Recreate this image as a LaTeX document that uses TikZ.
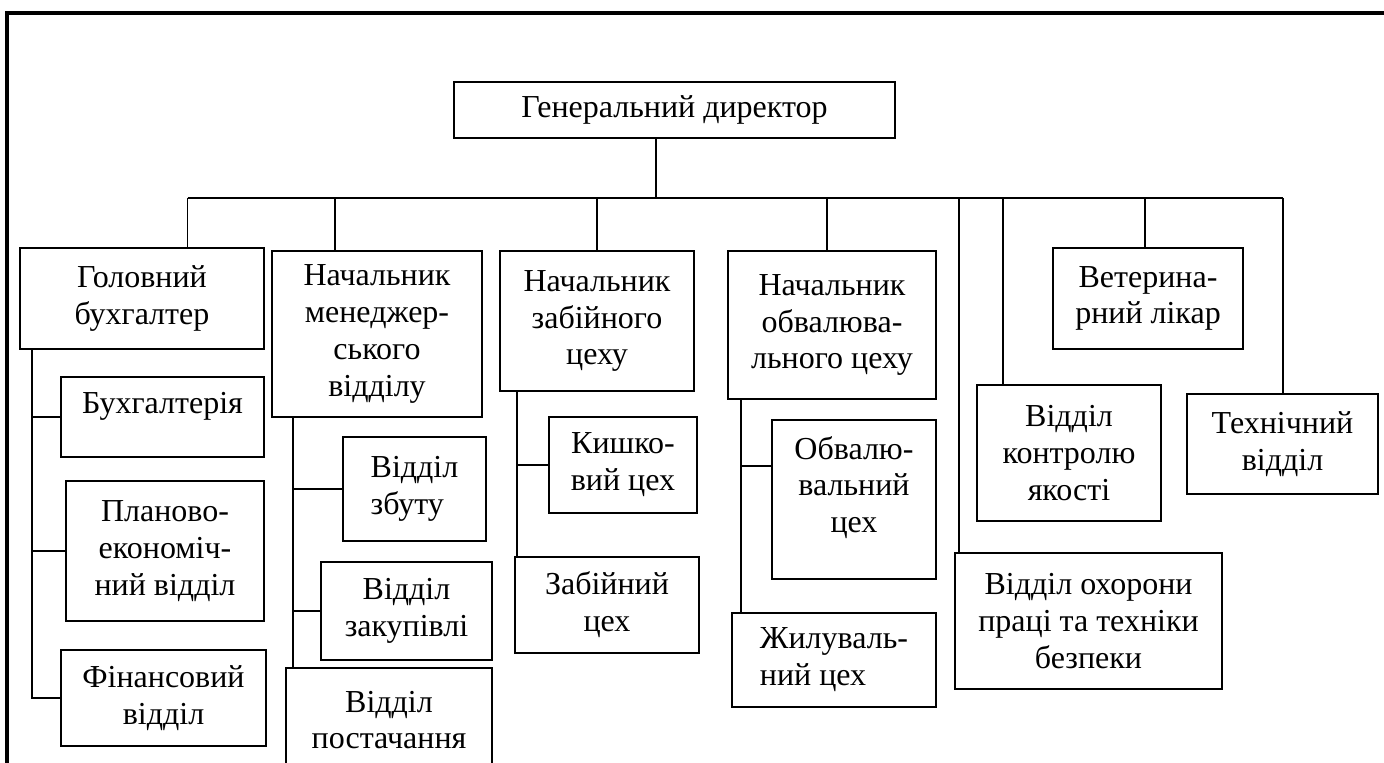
\documentclass[tikz,border=0pt]{standalone}
\usepackage{fontspec}
\setmainfont{Liberation Serif}

\begin{document}
\begin{tikzpicture}[x=0.5pt, y=-0.5pt, font=\fontsize{16}{18.4}\selectfont, unit/.style={draw, line width=1.2pt, align=center, inner sep=2pt}, link/.style={line width=0.6pt}, frame/.style={line width=2.2pt}]
\useasboundingbox (0,0) rectangle (1384,763);
\draw[frame] (7,800) |- (1420,13);
\node[unit, minimum width=220.5pt, minimum height=28pt] (dir) at (674.5,110) {Генеральний директор};
\node[unit, minimum width=122pt, minimum height=50.5pt] (glav) at (142,298.5) {Головний\\бухгалтер};
\node[unit, minimum width=105pt, minimum height=83pt] (men) at (377,334) {Начальник\\менеджер-\\ського\\відділу};
\node[unit, minimum width=97pt, minimum height=70pt] (zab) at (597,321) {Начальник\\забійного\\цеху};
\node[unit, minimum width=104pt, minimum height=74pt] (obv) at (832,325) {Начальник\\обвалюва-\\льного цеху};
\node[unit, minimum width=95pt, minimum height=50.5pt] (vet) at (1148,298.5) {Ветерина-\\рний лікар};
\node[unit, minimum width=92pt, minimum height=68pt] (kontr) at (1069,453) {Відділ\\контролю\\якості};
\node[unit, minimum width=95.5pt, minimum height=50pt] (tech) at (1282.5,444) {Технічний\\відділ};
\node[unit, minimum width=133.5pt, minimum height=68pt] (ohor) at (1088.5,621) {Відділ охорони\\праці та техніки\\безпеки};
\node[unit, text depth=14pt, minimum width=101.5pt, minimum height=40pt] (buh) at (162.5,417) {Бухгалтерія};
\node[unit, minimum width=99pt, minimum height=70pt] (plan) at (165,551) {Планово-\\економіч-\\ний відділ};
\node[unit, minimum width=102.5pt, minimum height=48pt] (fin) at (163.5,698) {Фінансовий\\відділ};
\node[unit, align=left, minimum width=71.5pt, minimum height=52pt] (zbut) at (414.5,489) {Відділ\\збуту};
\node[unit, minimum width=85.5pt, minimum height=49pt] (zakup) at (406.5,611) {Відділ\\закупівлі};
\node[unit, minimum width=103pt, minimum height=52pt] (post) at (389,720) {Відділ\\постачання};
\node[unit, minimum width=74pt, minimum height=48pt] (kish) at (623,465) {Кишко-\\вий цех};
\node[unit, minimum width=92pt, minimum height=48pt] (zabc) at (607,605) {Забійний\\цех};
\node[unit, text depth=15pt, minimum width=82pt, minimum height=79.5pt] (obvc) at (854,499.5) {Обвалю-\\вальний\\цех};
\node[unit, align=left, minimum width=102pt, minimum height=47pt] (zhyl) at (834,660) {Жилуваль-\\ний цех};
\coordinate (bus) at (656,198);
\coordinate (d1) at (187.5,198);
\coordinate (d2) at (335,198);
\coordinate (d3) at (597,198);
\coordinate (d4) at (827,198);
\coordinate (d5) at (959,198);
\coordinate (d6) at (1003,198);
\coordinate (d7) at (1145,198);
\coordinate (d8) at (1283,198);
\coordinate (b1) at (32,0);
\coordinate (b2) at (293,0);
\coordinate (b3) at (517,0);
\coordinate (b4) at (741,0);
\coordinate (t4) at ([yshift=16.75pt]obvc.west);
\draw[link] (dir.south -| bus) -- (bus);
\draw[link] (d1) -- (d8);
\foreach \d/\n in {d1/glav, d2/men, d3/zab, d4/obv, d5/ohor, d6/kontr, d7/vet, d8/tech}
  \draw[link] (\d) -- (\d |- \n.north);
\draw[link] (glav.south -| b1) -- (fin.west -| b1) -- (fin.west);
\draw[link] (buh.west -| b1) -- (buh.west);
\draw[link] (plan.west -| b1) -- (plan.west);
\draw[link] (men.south -| b2) -- (post.north -| b2);
\draw[link] (zbut.west -| b2) -- (zbut.west);
\draw[link] (zakup.west -| b2) -- (zakup.west);
\draw[link] (zab.south -| b3) -- (zabc.north -| b3);
\draw[link] (kish.west -| b3) -- (kish.west);
\draw[link] (obv.south -| b4) -- (zhyl.north -| b4);
\draw[link] (t4 -| b4) -- (t4);
\end{tikzpicture}
\end{document}
